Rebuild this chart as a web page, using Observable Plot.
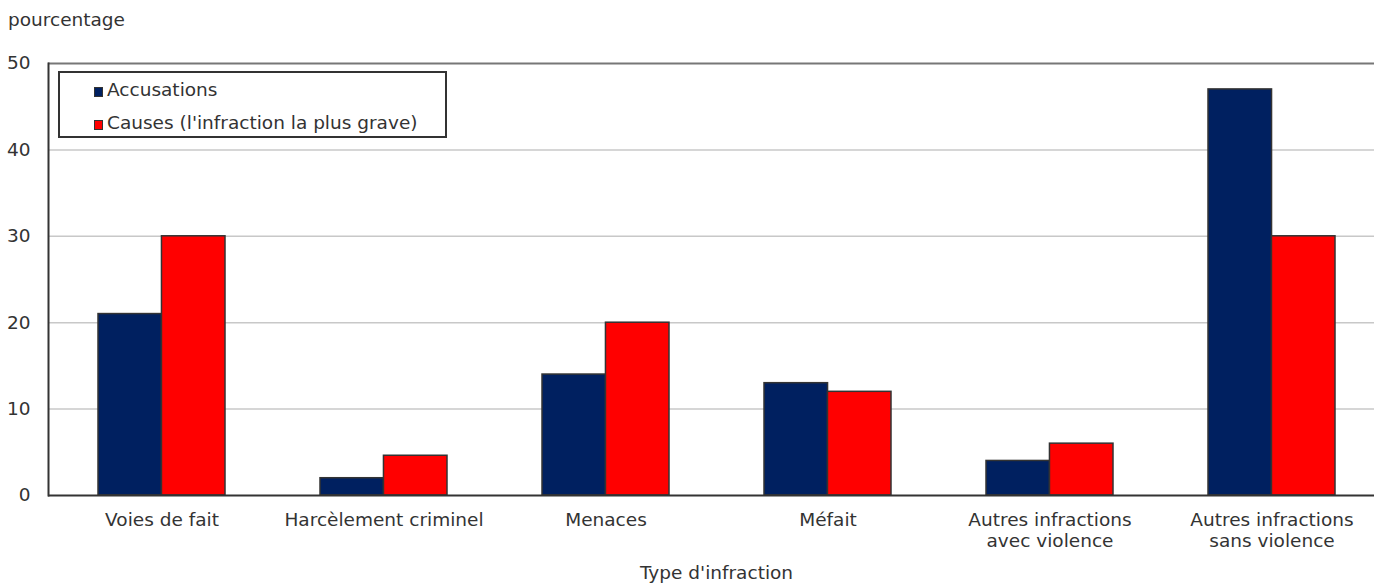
<!DOCTYPE html>
<html><head><meta charset="utf-8">
<script src="https://cdn.jsdelivr.net/npm/d3@7"></script>
<script src="https://cdn.jsdelivr.net/npm/@observablehq/plot@0.6"></script>
<style>
body{margin:0;overflow:hidden;background:#fff;font-family:"DejaVu Sans",Verdana,sans-serif;color:#333}
#wrap{position:relative;width:1374px;height:583px;overflow:hidden}
#chart svg{max-width:none !important}
#ylab{position:absolute;left:8px;top:9px;font-size:18.5px;line-height:22px}
#legend{position:absolute;left:58px;top:71px;width:389px;height:67px;box-sizing:border-box;border:2px solid #333;background:#fff}
#legend .row{position:absolute;left:34px;height:24px;line-height:24px;font-size:18.5px;white-space:nowrap}
#legend .sw{display:inline-block;width:9px;height:10px;border:1px solid #333;box-sizing:border-box;margin-right:4px;vertical-align:-1px}
</style></head>
<body>
<div id="wrap">
  <div id="chart"></div>
  <div id="ylab">pourcentage</div>
  <div id="legend"></div>
</div>
<script>
const categories = ["Voies de fait", "Harcèlement criminel", "Menaces", "Méfait", "Autres infractions\navec violence", "Autres infractions\nsans violence"];
const series = ["Accusations", "Causes (l'infraction la plus grave)"];
const accusations = [21, 2, 14, 13, 4, 47];
const causes = [30, 4.6, 20, 12, 6, 30];
const yTicks = [0, 10, 20, 30, 40, 50];
const gridValues = [10, 20, 30, 40];
const colors = ["#002060", "#ff0000"];

const rows = categories.flatMap((c, i) => [
  {category: c, series: series[0], value: accusations[i]},
  {category: c, series: series[1], value: causes[i]}
]);

const W = 1386, ML = 48, MR = 2, PI = 0.43, PO = 0.215;
const step = (W - ML - MR) / (categories.length - PI + 2 * PO);
const half = step * (1 - PI) / 2;

const chart = Plot.plot({
  width: W, height: 583,
  marginTop: 63, marginBottom: 88, marginLeft: ML, marginRight: MR,
  style: {fontFamily: "DejaVu Sans, Verdana, sans-serif", fontSize: "18.5px", color: "#333", background: "#fff", maxWidth: "none"},
  x: {domain: categories, paddingInner: PI, paddingOuter: PO},
  y: {domain: [0, 50]},
  color: {domain: series, range: colors},
  marks: [
    Plot.gridY(gridValues, {stroke: "#c8c8c8", strokeOpacity: 1, strokeWidth: 1.5}),
    Plot.ruleY([50], {stroke: "#777", strokeWidth: 2}),
    Plot.barY(rows.filter(d => d.series === series[0]), {x: "category", y: "value", fill: "series", stroke: "#333", strokeWidth: 1.5, insetRight: half}),
    Plot.barY(rows.filter(d => d.series === series[1]), {x: "category", y: "value", fill: "series", stroke: "#333", strokeWidth: 1.5, insetLeft: half}),
    Plot.ruleY([0], {stroke: "#333", strokeWidth: 2}),
    Plot.frame({anchor: "left", stroke: "#333", strokeWidth: 2}),
    Plot.axisY(yTicks, {tickSize: 0, tickPadding: 18, label: null}),
    Plot.axisX({anchor: "bottom", tickSize: 0, tickPadding: 15, lineHeight: 1.15, label: "Type d'infraction", labelAnchor: "center", labelOffset: 83})
  ]
});
document.getElementById("chart").appendChild(chart);

const legend = document.getElementById("legend");
series.forEach((s, i) => {
  const row = document.createElement("div");
  row.className = "row";
  row.style.top = (5 + i * 33) + "px";
  const sw = document.createElement("span");
  sw.className = "sw";
  sw.style.background = colors[i];
  row.appendChild(sw);
  row.appendChild(document.createTextNode(s));
  legend.appendChild(row);
});
</script>
</body></html>
